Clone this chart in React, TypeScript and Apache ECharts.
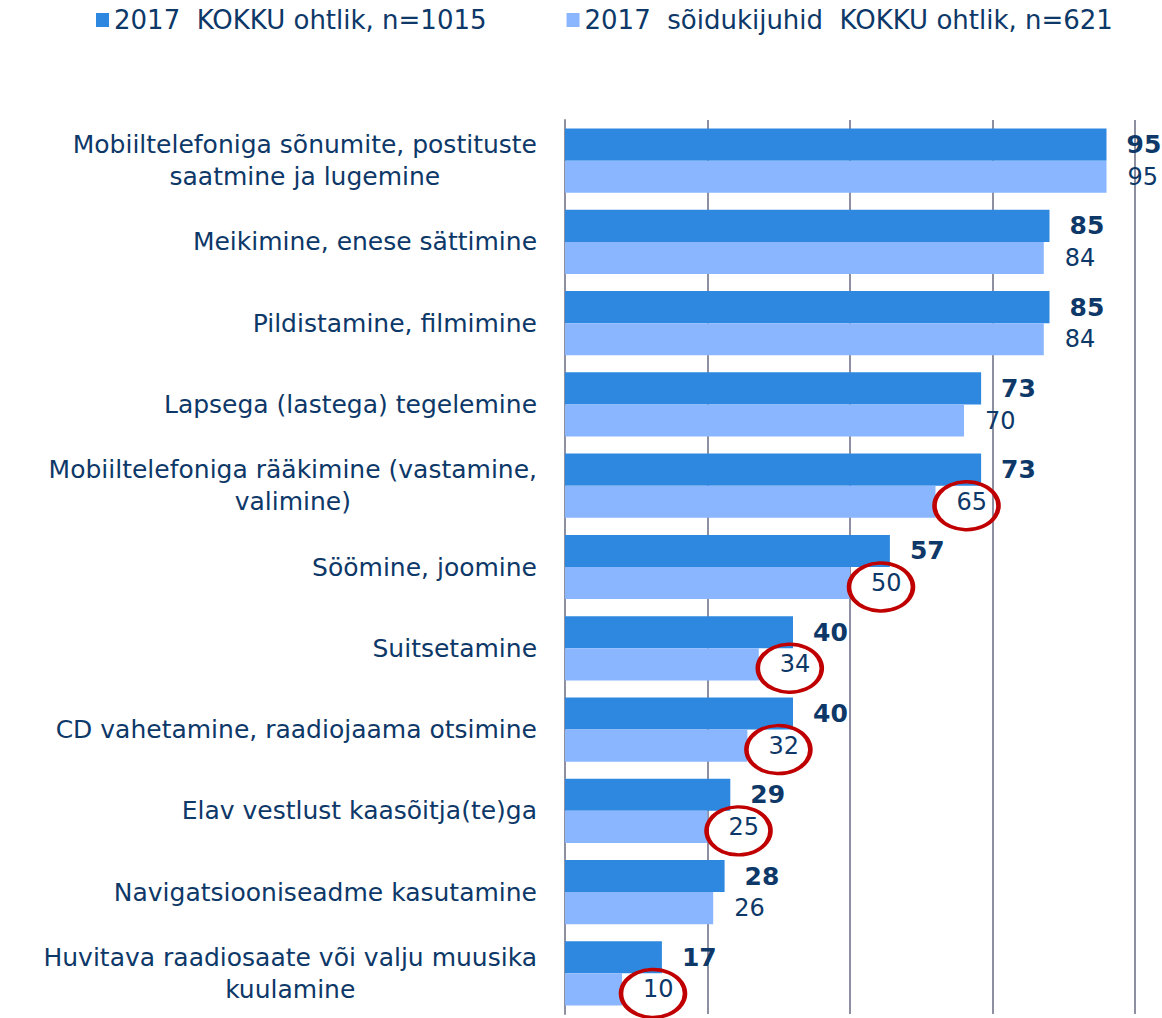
import React, { useEffect, useRef } from "react";
import * as echarts from "echarts";

const categories: string[][] = [
  ["Mobiiltelefoniga sõnumite, postituste", "saatmine ja lugemine"],
  ["Meikimine, enese sättimine"],
  ["Pildistamine, filmimine"],
  ["Lapsega (lastega) tegelemine"],
  ["Mobiiltelefoniga rääkimine (vastamine,", "valimine)"],
  ["Söömine, joomine"],
  ["Suitsetamine"],
  ["CD vahetamine, raadiojaama otsimine"],
  ["Elav vestlust kaasõitja(te)ga"],
  ["Navigatsiooniseadme kasutamine"],
  ["Huvitava raadiosaate või valju muusika", "kuulamine"],
];

const seriesNames = [
  "2017  KOKKU ohtlik, n=1015",
  "2017  sõidukijuhid  KOKKU ohtlik, n=621",
];

const totalValues = [95, 85, 85, 73, 73, 57, 40, 40, 29, 28, 17];
const driverValues = [95, 84, 84, 70, 65, 50, 34, 32, 25, 26, 10];

// indices of driver values that are circled in red
const circledIdx = [4, 5, 6, 7, 8, 10];

const xTicks = [0, 25, 50, 75, 100];

const NAVY = "#0D3868";
const DARK = "#2E88E0";
const LIGHT = "#8AB6FF";
const GRIDC = "#8E90A2";
const RED = "#C00000";
const FONT = "DejaVu Sans";

export default function App() {
  const ref = useRef<HTMLDivElement>(null);

  useEffect(() => {
    if (!ref.current) return;
    const chart = echarts.init(ref.current, undefined, { renderer: "svg" });
    const catKeys = categories.map((c) => c.join("\n"));

    const option: any = {
      animation: false,
      textStyle: { fontFamily: FONT },
      legend: {
        top: 7,
        left: 96,
        padding: 0,
        itemWidth: 13,
        itemHeight: 14,
        itemGap: 80,
        icon: "rect",
        textStyle: { fontSize: 26, color: NAVY, fontFamily: FONT },
        data: seriesNames,
      },
      grid: { left: 565, right: 27, top: 120, bottom: 4, containLabel: false },
      xAxis: {
        type: "value",
        min: xTicks[0],
        max: xTicks[xTicks.length - 1],
        interval: xTicks[1] - xTicks[0],
        axisLabel: { show: false },
        axisLine: { show: false },
        axisTick: { show: false },
        splitLine: { show: true, lineStyle: { color: GRIDC, width: 2 } },
      },
      yAxis: {
        type: "category",
        inverse: true,
        data: catKeys,
        axisTick: { show: false },
        axisLine: { show: true, lineStyle: { color: GRIDC, width: 2 } },
        axisLabel: {
          margin: 28,
          fontSize: 25,
          color: NAVY,
          fontFamily: FONT,
          lineHeight: 32,
          align: "right",
          formatter: (v: string) =>
            v
              .split("\n")
              .map((l) => "{c|" + l + "}")
              .join("\n"),
          rich: {
            c: {
              align: "center",
              fontSize: 25,
              color: NAVY,
              fontFamily: FONT,
              lineHeight: 32,
            },
          },
        },
      },
      series: [
        {
          name: seriesNames[0],
          type: "bar",
          data: totalValues,
          barGap: "0%",
          barCategoryGap: "21%",
          itemStyle: { color: DARK },
          label: {
            show: true,
            position: "right",
            distance: 20,
            fontSize: 25,
            fontWeight: "bold",
            color: NAVY,
            fontFamily: FONT,
          },
        },
        {
          name: seriesNames[1],
          type: "bar",
          data: driverValues,
          barGap: "0%",
          barCategoryGap: "21%",
          itemStyle: { color: LIGHT },
          label: {
            show: true,
            position: "right",
            distance: 21,
            fontSize: 24,
            color: NAVY,
            fontFamily: FONT,
          },
          markPoint: {
            symbol: "circle",
            symbolSize: [64, 48],
            symbolOffset: [31, 4],
            itemStyle: { color: "rgba(0,0,0,0)", borderColor: RED, borderWidth: 4 },
            label: { show: false },
            silent: true,
            data: circledIdx.map((i) => ({
              coord: [driverValues[i], catKeys[i]],
            })),
          },
        },
      ],
    };

    chart.setOption(option);
    return () => chart.dispose();
  }, []);

  return (
    <div
      ref={ref}
      style={{ position: "absolute", left: 0, top: 0, width: 1162, height: 1018 }}
    />
  );
}
